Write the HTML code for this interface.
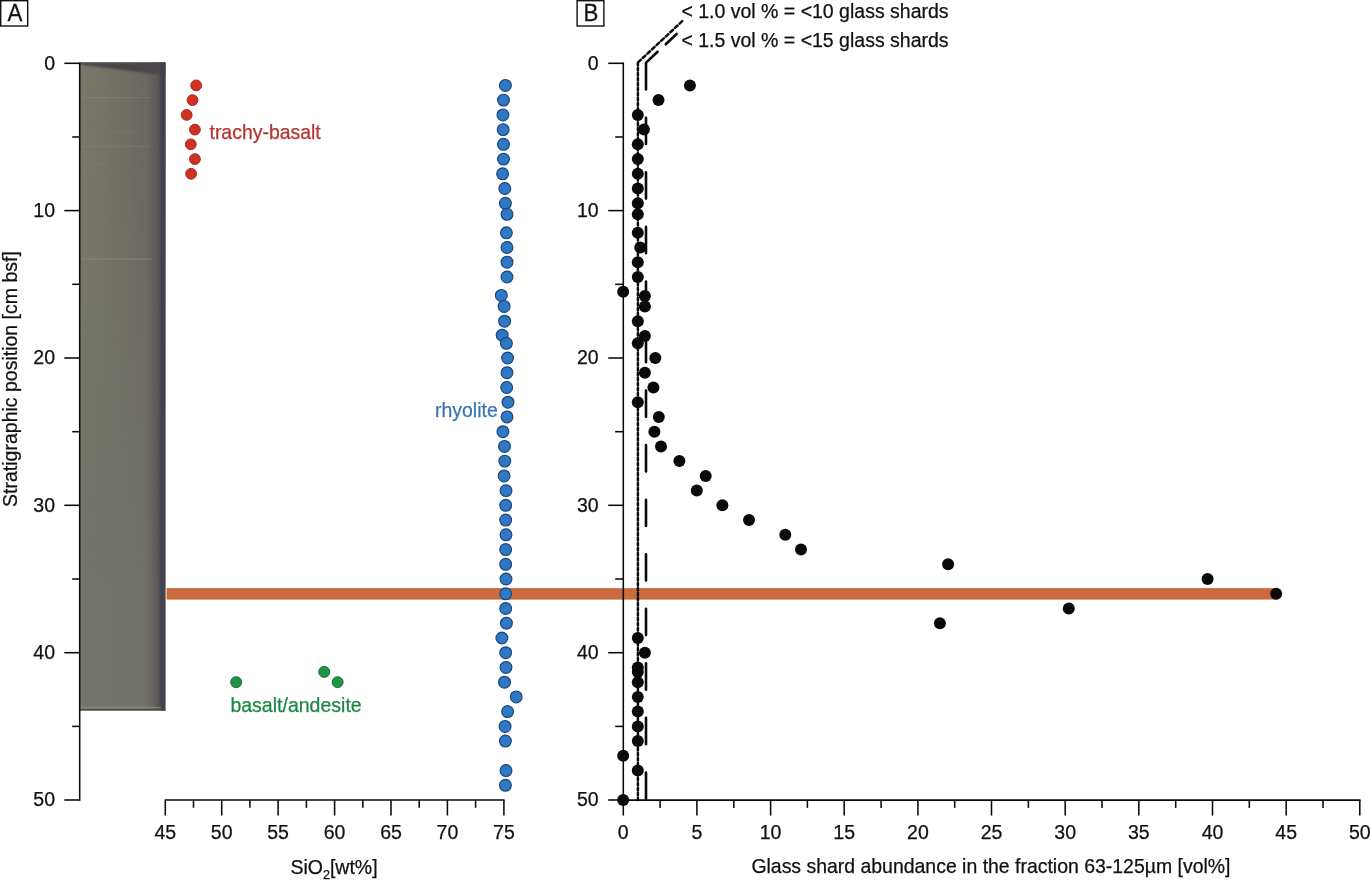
<!DOCTYPE html>
<html><head><meta charset="utf-8"><title>Figure</title>
<style>
html,body{margin:0;padding:0;background:#fff;}
body{width:1371px;height:884px;overflow:hidden;}
svg{display:block;will-change:transform;}
text{font-family:"Liberation Sans",sans-serif;font-size:19.5px;fill:#111;stroke:#111;stroke-width:0.25px;}
.ax{stroke:#0a0a0a;stroke-width:1.55;fill:none;}
</style></head><body>
<svg width="1371" height="884" viewBox="0 0 1371 884">
<defs>
<linearGradient id="cgB" gradientUnits="userSpaceOnUse" x1="79.6" y1="0" x2="165.6" y2="0">
<stop offset="0" stop-color="#7c7d72"/><stop offset="0.05" stop-color="#73746a"/><stop offset="0.74" stop-color="#717269"/><stop offset="0.82" stop-color="#6b6a63"/><stop offset="0.9" stop-color="#5e5a58"/><stop offset="0.945" stop-color="#4c4950"/><stop offset="1" stop-color="#403e4a"/>
</linearGradient>
<linearGradient id="cgA" gradientUnits="userSpaceOnUse" x1="79.6" y1="0" x2="165.6" y2="0">
<stop offset="0" stop-color="#787869"/><stop offset="0.3" stop-color="#747366"/><stop offset="0.55" stop-color="#706d64"/><stop offset="0.78" stop-color="#6a6660"/><stop offset="0.9" stop-color="#5e5a58"/><stop offset="0.945" stop-color="#4f4c50"/><stop offset="1" stop-color="#45434c"/>
</linearGradient>
<linearGradient id="mg" gradientUnits="userSpaceOnUse" x1="0" y1="62" x2="0" y2="711">
<stop offset="0" stop-color="#fff"/><stop offset="0.3" stop-color="#bbb"/><stop offset="0.55" stop-color="#444"/><stop offset="0.8" stop-color="#000"/>
</linearGradient>
<mask id="mk" maskUnits="userSpaceOnUse" x="79" y="60" width="90" height="660"><rect x="79" y="60" width="90" height="660" fill="url(#mg)"/></mask>
<clipPath id="cc"><rect x="79.6" y="62.2" width="86" height="648.5"/></clipPath>
<filter id="bl" x="-5%" y="-30%" width="110%" height="160%"><feGaussianBlur stdDeviation="0.9"/></filter>
</defs>
<rect width="1371" height="884" fill="#fff"/>
<g clip-path="url(#cc)">
<rect x="79.6" y="62.2" width="86" height="648.5" fill="url(#cgB)"/>
<rect x="79.6" y="62.2" width="86" height="648.5" fill="url(#cgA)" mask="url(#mk)"/>
<polygon points="79.6,62.2 165.6,62.2 165.6,76.2 160.5,74.7 80,64.6" fill="#4a444a" filter="url(#bl)"/>
<rect x="160.8" y="62.2" width="4.8" height="648.5" fill="#43414d"/>
<rect x="80" y="706.8" width="81" height="1.3" fill="#908f87" opacity="0.8"/>
<rect x="80" y="709.1" width="85.6" height="1.6" fill="#4b4947"/>
<rect x="82" y="97.0" width="68" height="1.2" fill="#9a9a90" opacity="0.22"/>
<rect x="82" y="146.0" width="68" height="1.2" fill="#9a9a90" opacity="0.20"/>
<rect x="84" y="164.0" width="26" height="1.2" fill="#9a9a90" opacity="0.15"/>
<rect x="82" y="258.5" width="70" height="1.2" fill="#9a9a90" opacity="0.40"/>
<rect x="110" y="131.0" width="30" height="1.2" fill="#9a9a90" opacity="0.15"/>
</g>
<rect x="166.5" y="588.1" width="1109.5" height="11.5" fill="#c96b3d"/>
<g class="ax">
<path d="M79.7 62.5 V800.8"/>
<path d="M64.3 63.3 H79.7"/>
<path d="M72.2 137.0 H79.7"/>
<path d="M64.3 210.6 H79.7"/>
<path d="M72.2 284.3 H79.7"/>
<path d="M64.3 358.0 H79.7"/>
<path d="M72.2 431.7 H79.7"/>
<path d="M64.3 505.3 H79.7"/>
<path d="M72.2 579.0 H79.7"/>
<path d="M64.3 652.7 H79.7"/>
<path d="M72.2 726.4 H79.7"/>
<path d="M64.3 800.0 H79.7"/>
<path d="M164.6 800.0 H504.6"/>
<path d="M165.3 800.0 V815.5"/>
<path d="M193.5 800.0 V807.8"/>
<path d="M221.7 800.0 V815.5"/>
<path d="M249.9 800.0 V807.8"/>
<path d="M278.1 800.0 V815.5"/>
<path d="M306.4 800.0 V807.8"/>
<path d="M334.6 800.0 V815.5"/>
<path d="M362.8 800.0 V807.8"/>
<path d="M391.0 800.0 V815.5"/>
<path d="M419.2 800.0 V807.8"/>
<path d="M447.4 800.0 V815.5"/>
<path d="M475.6 800.0 V807.8"/>
<path d="M503.9 800.0 V815.5"/>
<path d="M623.3 62.5 V800.8"/>
<path d="M608.2 63.3 H623.3"/>
<path d="M615.2 137.0 H623.3"/>
<path d="M608.2 210.6 H623.3"/>
<path d="M615.2 284.3 H623.3"/>
<path d="M608.2 358.0 H623.3"/>
<path d="M615.2 431.7 H623.3"/>
<path d="M608.2 505.3 H623.3"/>
<path d="M615.2 579.0 H623.3"/>
<path d="M608.2 652.7 H623.3"/>
<path d="M615.2 726.4 H623.3"/>
<path d="M608.2 800.0 H623.3"/>
<path d="M622.5 800.1 H1360.5"/>
<path d="M623.3 800.1 V815.6"/>
<path d="M660.1 800.1 V807.9"/>
<path d="M696.9 800.1 V815.6"/>
<path d="M733.8 800.1 V807.9"/>
<path d="M770.6 800.1 V815.6"/>
<path d="M807.4 800.1 V807.9"/>
<path d="M844.2 800.1 V815.6"/>
<path d="M881.1 800.1 V807.9"/>
<path d="M917.9 800.1 V815.6"/>
<path d="M954.7 800.1 V807.9"/>
<path d="M991.5 800.1 V815.6"/>
<path d="M1028.4 800.1 V807.9"/>
<path d="M1065.2 800.1 V815.6"/>
<path d="M1102.0 800.1 V807.9"/>
<path d="M1138.8 800.1 V815.6"/>
<path d="M1175.7 800.1 V807.9"/>
<path d="M1212.5 800.1 V815.6"/>
<path d="M1249.3 800.1 V807.9"/>
<path d="M1286.2 800.1 V815.6"/>
<path d="M1323.0 800.1 V807.9"/>
<path d="M1359.8 800.1 V815.6"/>
</g>
<g text-anchor="end">
<text x="55" y="69.7">0</text>
<text x="598.6" y="69.7">0</text>
<text x="55" y="217.0">10</text>
<text x="598.6" y="217.0">10</text>
<text x="55" y="364.4">20</text>
<text x="598.6" y="364.4">20</text>
<text x="55" y="511.7">30</text>
<text x="598.6" y="511.7">30</text>
<text x="55" y="659.1">40</text>
<text x="598.6" y="659.1">40</text>
<text x="55" y="806.4">50</text>
<text x="598.6" y="806.4">50</text>
</g>
<g text-anchor="middle">
<text x="165.3" y="839.1">45</text>
<text x="221.7" y="839.1">50</text>
<text x="278.1" y="839.1">55</text>
<text x="334.6" y="839.1">60</text>
<text x="391.0" y="839.1">65</text>
<text x="447.4" y="839.1">70</text>
<text x="503.9" y="839.1">75</text>
<text x="623.3" y="839.1">0</text>
<text x="696.9" y="839.1">5</text>
<text x="770.6" y="839.1">10</text>
<text x="844.2" y="839.1">15</text>
<text x="917.9" y="839.1">20</text>
<text x="991.5" y="839.1">25</text>
<text x="1065.2" y="839.1">30</text>
<text x="1138.8" y="839.1">35</text>
<text x="1212.5" y="839.1">40</text>
<text x="1286.2" y="839.1">45</text>
<text x="1359.8" y="839.1">50</text>
</g>
<text x="290.4" y="873.6">SiO<tspan style="font-size:12.6px" dy="5.8">2</tspan><tspan dy="-5.8">[wt%]</tspan></text>
<text x="751.4" y="873.3" style="font-size:19.46px">Glass shard abundance in the fraction 63-125µm [vol%]</text>
<text transform="translate(17.1,506.9) rotate(-90)" style="font-size:19.5px">Stratigraphic position [cm bsf]</text>
<rect x="0.7" y="0.7" width="27" height="25.3" fill="#fff" stroke="#111" stroke-width="1.4"/>
<text transform="translate(7.5,20.7) scale(0.95,1)" style="font-size:23.4px">A</text>
<rect x="577.1" y="0.7" width="26.8" height="25.3" fill="#fff" stroke="#111" stroke-width="1.4"/>
<text transform="translate(583.4,20.6) scale(0.96,1)" style="font-size:23.2px">B</text>
<text x="681.4" y="17.9">&lt; 1.0 vol % = &lt;10 glass shards</text>
<text x="681.4" y="46.6">&lt; 1.5 vol % = &lt;15 glass shards</text>
<g stroke="#0a0a0a" fill="none" stroke-linecap="round">
<path d="M637.9 63.1 V800.0" stroke-width="2.5" stroke-dasharray="2.35 2.65"/>
<path d="M682.2 21.2 L637.9 62.5" stroke-width="2.5" stroke-dasharray="3.6 2.7"/>
<path d="M646.0 63.2 V800.0" stroke-width="2.6" stroke-dasharray="26.3 28.26"/>
<path d="M676.6 34 L665.8 44.3 M657.6 51.8 L646 62.6" stroke-width="2.6"/>
</g>
<g fill="#d1321f" stroke="#a3292b" stroke-width="1">
<circle cx="196.2" cy="85.4" r="5.4"/>
<circle cx="192.5" cy="100.1" r="5.4"/>
<circle cx="186.7" cy="114.9" r="5.4"/>
<circle cx="194.9" cy="129.6" r="5.4"/>
<circle cx="190.8" cy="144.3" r="5.4"/>
<circle cx="194.9" cy="159.1" r="5.4"/>
<circle cx="191.1" cy="173.8" r="5.4"/>
</g>
<g fill="#1f9447" stroke="#177338" stroke-width="1">
<circle cx="236.2" cy="682.2" r="5.5"/>
<circle cx="324.2" cy="671.9" r="5.5"/>
<circle cx="337.6" cy="682.2" r="5.5"/>
</g>
<g fill="#2f78c6" stroke="#1b4478" stroke-width="1.15">
<circle cx="505.4" cy="85.4" r="5.9"/>
<circle cx="503.5" cy="100.1" r="5.9"/>
<circle cx="502.9" cy="114.9" r="5.9"/>
<circle cx="503.2" cy="129.6" r="5.9"/>
<circle cx="503.5" cy="144.3" r="5.9"/>
<circle cx="503.5" cy="159.1" r="5.9"/>
<circle cx="502.6" cy="173.8" r="5.9"/>
<circle cx="504.8" cy="188.5" r="5.9"/>
<circle cx="505.4" cy="203.3" r="5.9"/>
<circle cx="507.0" cy="214.3" r="5.9"/>
<circle cx="506.4" cy="232.8" r="5.9"/>
<circle cx="507.0" cy="247.5" r="5.9"/>
<circle cx="507.0" cy="262.2" r="5.9"/>
<circle cx="507.0" cy="277.0" r="5.9"/>
<circle cx="501.3" cy="295.4" r="5.9"/>
<circle cx="504.1" cy="306.4" r="5.9"/>
<circle cx="504.6" cy="321.2" r="5.9"/>
<circle cx="502.2" cy="335.2" r="5.9"/>
<circle cx="506.4" cy="343.3" r="5.9"/>
<circle cx="507.6" cy="358.0" r="5.9"/>
<circle cx="507.0" cy="372.7" r="5.9"/>
<circle cx="506.7" cy="387.5" r="5.9"/>
<circle cx="508.0" cy="402.2" r="5.9"/>
<circle cx="507.0" cy="416.9" r="5.9"/>
<circle cx="502.9" cy="431.7" r="5.9"/>
<circle cx="504.5" cy="446.4" r="5.9"/>
<circle cx="504.8" cy="461.1" r="5.9"/>
<circle cx="504.1" cy="475.9" r="5.9"/>
<circle cx="506.0" cy="490.6" r="5.9"/>
<circle cx="505.7" cy="505.3" r="5.9"/>
<circle cx="505.7" cy="520.1" r="5.9"/>
<circle cx="506.0" cy="534.8" r="5.9"/>
<circle cx="505.7" cy="549.6" r="5.9"/>
<circle cx="505.7" cy="564.3" r="5.9"/>
<circle cx="506.0" cy="579.0" r="5.9"/>
<circle cx="505.7" cy="593.8" r="5.9"/>
<circle cx="505.7" cy="608.5" r="5.9"/>
<circle cx="506.4" cy="623.2" r="5.9"/>
<circle cx="501.9" cy="638.0" r="5.9"/>
<circle cx="505.7" cy="652.7" r="5.9"/>
<circle cx="506.0" cy="667.4" r="5.9"/>
<circle cx="504.5" cy="682.2" r="5.9"/>
<circle cx="516.2" cy="696.9" r="5.9"/>
<circle cx="507.6" cy="711.6" r="5.9"/>
<circle cx="505.1" cy="726.4" r="5.9"/>
<circle cx="505.4" cy="741.1" r="5.9"/>
<circle cx="506.0" cy="770.6" r="5.9"/>
<circle cx="505.4" cy="785.3" r="5.9"/>
</g>
<g fill="#0a0a0a">
<circle cx="689.9" cy="85.4" r="6"/>
<circle cx="658.5" cy="100.1" r="6"/>
<circle cx="637.8" cy="114.9" r="6"/>
<circle cx="643.9" cy="129.6" r="6"/>
<circle cx="637.8" cy="144.3" r="6"/>
<circle cx="637.8" cy="159.1" r="6"/>
<circle cx="637.8" cy="173.8" r="6"/>
<circle cx="637.8" cy="188.5" r="6"/>
<circle cx="637.8" cy="203.3" r="6"/>
<circle cx="637.8" cy="214.3" r="6"/>
<circle cx="637.8" cy="232.8" r="6"/>
<circle cx="640.3" cy="247.5" r="6"/>
<circle cx="637.8" cy="262.2" r="6"/>
<circle cx="637.8" cy="277.0" r="6"/>
<circle cx="623.2" cy="291.7" r="6"/>
<circle cx="644.9" cy="296.1" r="6"/>
<circle cx="644.9" cy="306.4" r="6"/>
<circle cx="637.8" cy="321.2" r="6"/>
<circle cx="644.9" cy="335.9" r="6"/>
<circle cx="637.8" cy="343.3" r="6"/>
<circle cx="655.3" cy="358.0" r="6"/>
<circle cx="644.9" cy="372.7" r="6"/>
<circle cx="653.4" cy="387.5" r="6"/>
<circle cx="637.8" cy="402.2" r="6"/>
<circle cx="658.8" cy="416.9" r="6"/>
<circle cx="654.4" cy="431.7" r="6"/>
<circle cx="661.0" cy="446.4" r="6"/>
<circle cx="679.4" cy="461.1" r="6"/>
<circle cx="705.7" cy="475.9" r="6"/>
<circle cx="696.8" cy="490.6" r="6"/>
<circle cx="722.4" cy="505.3" r="6"/>
<circle cx="749.0" cy="520.1" r="6"/>
<circle cx="785.3" cy="534.8" r="6"/>
<circle cx="801.0" cy="549.6" r="6"/>
<circle cx="948.1" cy="564.3" r="6"/>
<circle cx="1207.6" cy="579.0" r="6"/>
<circle cx="1276.2" cy="593.8" r="6"/>
<circle cx="1068.8" cy="608.5" r="6"/>
<circle cx="939.9" cy="623.2" r="6"/>
<circle cx="637.8" cy="638.0" r="6"/>
<circle cx="644.9" cy="652.7" r="6"/>
<circle cx="637.8" cy="667.4" r="6"/>
<circle cx="637.8" cy="671.9" r="6"/>
<circle cx="637.8" cy="682.2" r="6"/>
<circle cx="637.8" cy="696.9" r="6"/>
<circle cx="637.8" cy="711.6" r="6"/>
<circle cx="637.8" cy="726.4" r="6"/>
<circle cx="637.8" cy="741.1" r="6"/>
<circle cx="623.2" cy="755.8" r="6"/>
<circle cx="637.8" cy="770.6" r="6"/>
<circle cx="623.2" cy="800.0" r="6"/>
</g>
<text x="209.5" y="138.6" style="fill:#b8332e;stroke:#b8332e;font-size:19.46px">trachy-basalt</text>
<text x="230.4" y="712" style="fill:#1c8743;stroke:#1c8743;font-size:19.52px">basalt/andesite</text>
<text x="434.9" y="416.8" style="fill:#3a76b4;stroke:#3a76b4;font-size:19.5px">rhyolite</text>
</svg>
</body></html>
